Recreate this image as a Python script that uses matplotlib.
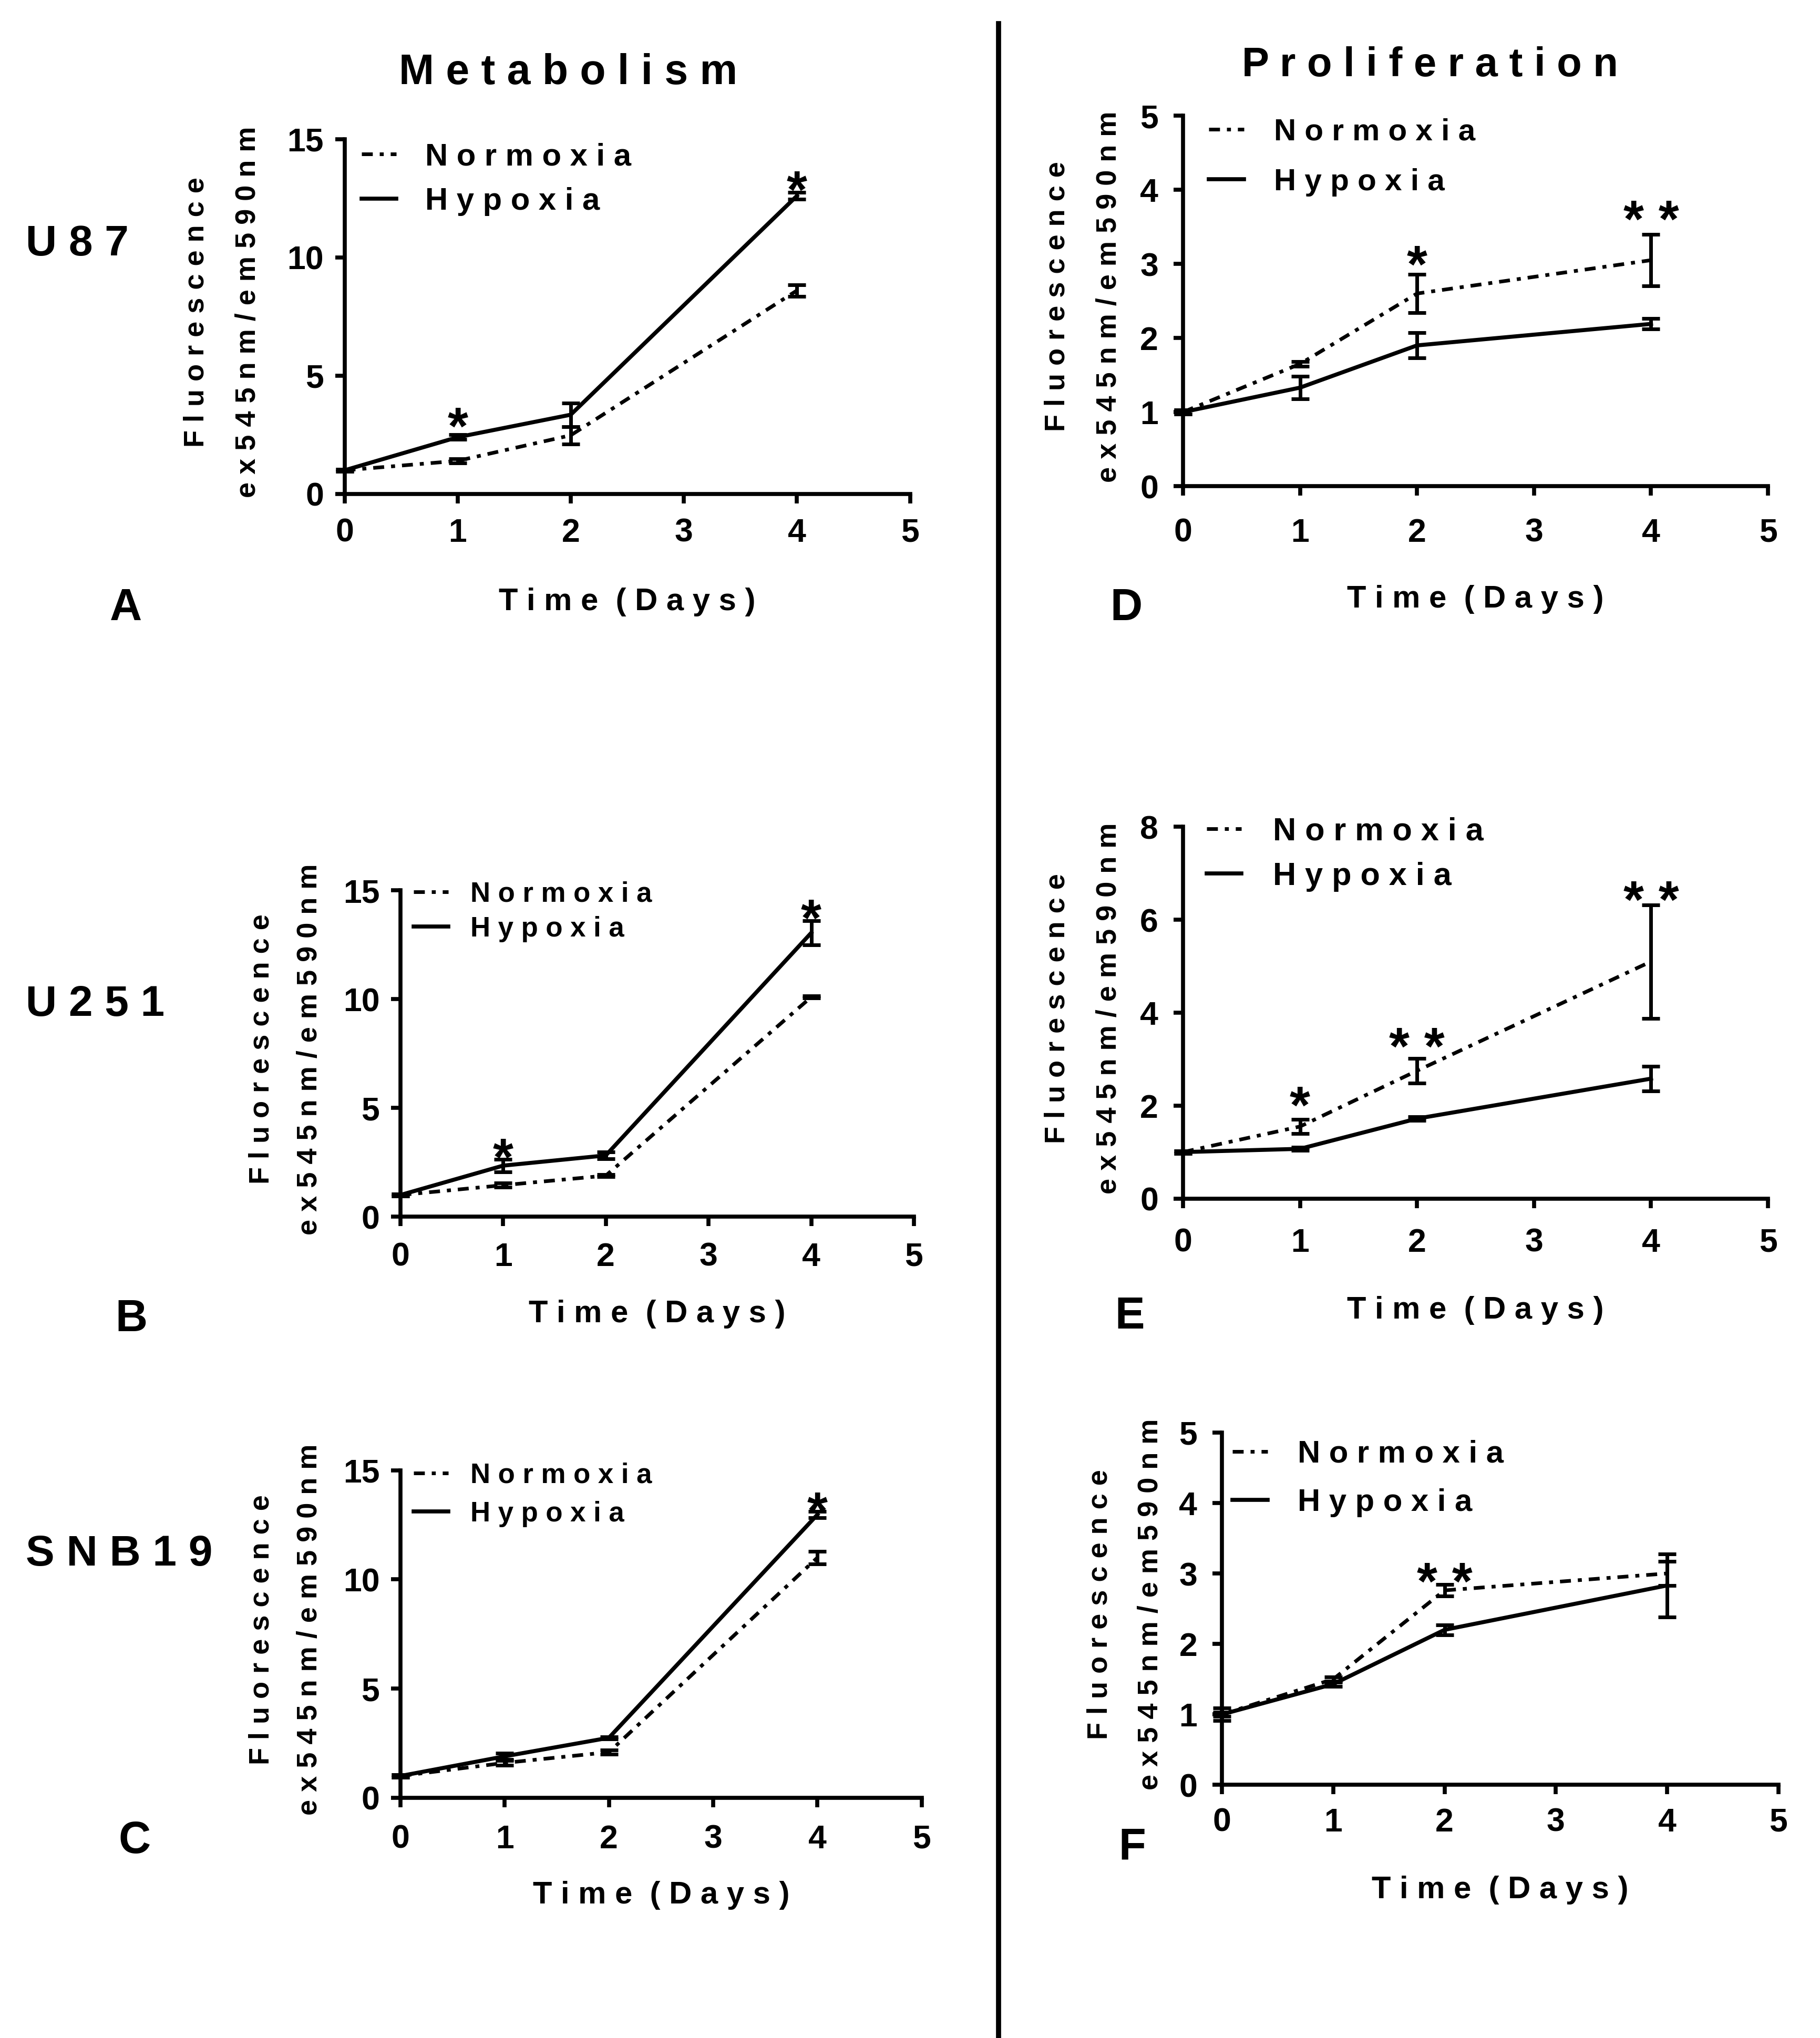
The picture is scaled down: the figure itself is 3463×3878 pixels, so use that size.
import matplotlib
matplotlib.use('Agg')
import matplotlib.pyplot as plt
from matplotlib.lines import Line2D

W, H = 3463, 3878
DPI = 100
S = 2.4736  # reduced-view px -> full px
PT = 72.0 / DPI  # full px -> points

plt.rcParams['font.family'] = ['Liberation Sans', 'DejaVu Sans']
plt.rcParams['font.weight'] = 'bold'

days = [0, 1, 2, 4]
x_ticks = [0, 1, 2, 3, 4, 5]

# ---- Panel A: U87 metabolism ----
A_norm = [1.0, 1.4, 2.48, 8.6]
A_norm_err = [0.05, 0.08, 0.36, 0.25]
A_hyp = [1.0, 2.4, 3.35, 12.6]
A_hyp_err = [0.05, 0.1, 0.5, 0.15]
A_yticks = [0, 5, 10, 15]
A_star_x = [1, 4]
A_star_y = [3.2, 13.2]
A_star_txt = ['*', '*']

# ---- Panel B: U251 metabolism ----
B_norm = [1.0, 1.45, 1.89, 10.1]
B_norm_err = [0.05, 0.1, 0.05, 0.05]
B_hyp = [1.0, 2.35, 2.82, 13.05]
B_hyp_err = [0.05, 0.3, 0.15, 0.55]
B_yticks = [0, 5, 10, 15]
B_star_x = [1, 4]
B_star_y = [3.1, 14.1]
B_star_txt = ['*', '*']

# ---- Panel C: SNB19 metabolism ----
C_norm = [1.0, 1.6, 2.09, 11.0]
C_norm_err = [0.05, 0.12, 0.1, 0.28]
C_hyp = [1.0, 1.9, 2.75, 12.97]
C_hyp_err = [0.05, 0.15, 0.05, 0.15]
C_yticks = [0, 5, 10, 15]
C_star_x = [4]
C_star_y = [13.5]
C_star_txt = ['*']

# ---- Panel D: U87 proliferation ----
D_norm = [1.0, 1.65, 2.6, 3.05]
D_norm_err = [0.03, 0.03, 0.26, 0.35]
D_hyp = [1.0, 1.33, 1.9, 2.19]
D_hyp_err = [0.03, 0.15, 0.17, 0.07]
D_yticks = [0, 1, 2, 3, 4, 5]
D_star_x = [2, 4]
D_star_y = [3.1, 3.71]
D_star_txt = ['*', '* *']

# ---- Panel E: U251 proliferation ----
E_norm = [1.0, 1.55, 2.75, 5.1]
E_norm_err = [0.03, 0.15, 0.27, 1.22]
E_hyp = [1.0, 1.07, 1.72, 2.58]
E_hyp_err = [0.03, 0.03, 0.04, 0.27]
E_yticks = [0, 2, 4, 6, 8]
E_star_x = [1, 2, 4]
E_star_y = [2.18, 3.45, 6.6]
E_star_txt = ['*', '* *', '* *']

# ---- Panel F: SNB19 proliferation ----
F_norm = [1.0, 1.5, 2.76, 3.0]
F_norm_err = [0.09, 0.03, 0.08, 0.17]
F_hyp = [1.0, 1.43, 2.2, 2.83]
F_hyp_err = [0.03, 0.03, 0.07, 0.45]
F_yticks = [0, 1, 2, 3, 4, 5]
F_star_x = [2]
F_star_y = [3.0]
F_star_txt = ['* *']

series_labels = ['Normoxia', 'Hypoxia']
ylabel1 = 'Fluorescence'
ylabel2 = 'ex545nm/em590nm'
xlabel = 'Time (Days)'
col_titles = ['Metabolism', 'Proliferation']
row_labels = ['U87', 'U251', 'SNB19']
panel_letters = ['A', 'B', 'C', 'D', 'E', 'F']


def sp(s):
    return ' '.join(s)


fig = plt.figure(figsize=(W / DPI, H / DPI), dpi=DPI)
fig.patch.set_facecolor('white')

# layout in reduced-view pixels: axes L, R, bottom(y=0), top(ymax)
layout = {
    'A': dict(L=265, R=700, B=380, T=107, xl=83, tkx=32, tky=16, yl=(114, 74),
              leg=(278, 119, 34, 327, 43)),
    'D': dict(L=910, R=1360, B=374, T=89, xl=87, tkx=38, tky=19, yl=(97, 57),
              leg=(930, 100, 38, 980, 42)),
    'B': dict(L=308, R=703, B=936, T=685, xl=75, tkx=33, tky=16, yl=(107, 70),
              leg=(318, 686, 26, 362, 38)),
    'E': dict(L=910, R=1360, B=922, T=636, xl=86, tkx=36, tky=19, yl=(97, 57),
              leg=(928, 638, 34, 979, 44)),
    'C': dict(L=308, R=709, B=1383, T=1131, xl=75, tkx=34, tky=16, yl=(107, 70),
              leg=(318, 1133, 29, 362, 38)),
    'F': dict(L=940, R=1368, B=1373, T=1102, xl=81, tkx=31, tky=19, yl=(94, 55),
              leg=(948, 1117, 37, 998, 43)),
}

data = {
    'A': (A_norm, A_norm_err, A_hyp, A_hyp_err, A_yticks, A_star_x, A_star_y, A_star_txt),
    'B': (B_norm, B_norm_err, B_hyp, B_hyp_err, B_yticks, B_star_x, B_star_y, B_star_txt),
    'C': (C_norm, C_norm_err, C_hyp, C_hyp_err, C_yticks, C_star_x, C_star_y, C_star_txt),
    'D': (D_norm, D_norm_err, D_hyp, D_hyp_err, D_yticks, D_star_x, D_star_y, D_star_txt),
    'E': (E_norm, E_norm_err, E_hyp, E_hyp_err, E_yticks, E_star_x, E_star_y, E_star_txt),
    'F': (F_norm, F_norm_err, F_hyp, F_hyp_err, F_yticks, F_star_x, F_star_y, F_star_txt),
}

dashdot = (0, (3.0, 1.9, 1.1, 1.9))
TICK_LEN = 13
TICK_LEN_PX = TICK_LEN / PT
TICK_FS = 45
LW_N, LW_H, LW_E = 5.0, 5.5, 5.0
STAR_FS = 72

for key in ['A', 'B', 'C', 'D', 'E', 'F']:
    lay = layout[key]
    norm, norm_err, hyp, hyp_err, yticks, sx, sy, stxt = data[key]
    L, R, B, T = [lay[k] * S for k in ('L', 'R', 'B', 'T')]
    ax = fig.add_axes([L / W, 1 - B / H, (R - L) / W, (B - T) / H])
    ax.set_xlim(0, 5)
    ax.set_ylim(yticks[0], yticks[-1])

    ax.errorbar(days, norm, yerr=norm_err, color='black', lw=LW_N,
                linestyle=dashdot, elinewidth=LW_E, capsize=12, capthick=LW_E,
                clip_on=False, zorder=3)
    ax.errorbar(days, hyp, yerr=hyp_err, color='black', lw=LW_H,
                linestyle='-', elinewidth=LW_E, capsize=12, capthick=LW_E,
                clip_on=False, zorder=3)

    for x, y, t in zip(sx, sy, stxt):
        ax.annotate(t, xy=(x, y), xytext=(0, -0.23 * STAR_FS), textcoords='offset points',
                    ha='center', va='center', fontsize=STAR_FS, fontweight='bold',
                    annotation_clip=False)

    for s in ('top', 'right'):
        ax.spines[s].set_visible(False)
    for s in ('left', 'bottom'):
        ax.spines[s].set_linewidth(5.5)
    ax.set_xticks(x_ticks)
    ax.set_yticks(yticks)
    ax.set_xticklabels([str(v) for v in x_ticks])
    ax.set_yticklabels([str(v) for v in yticks])
    em_t = TICK_FS / PT
    padx = (lay['tkx'] * S - 0.547 * em_t - TICK_LEN_PX) * PT
    pady = (lay['tky'] * S - TICK_LEN_PX) * PT
    ax.tick_params(axis='x', direction='out', length=TICK_LEN, width=5.5, pad=padx)
    ax.tick_params(axis='y', direction='out', length=TICK_LEN, width=5.5, pad=pady)
    for lab in ax.get_xticklabels() + ax.get_yticklabels():
        lab.set_fontsize(TICK_FS)
        lab.set_fontweight('bold')

    # x label
    ax.annotate(sp(xlabel).replace('   ', '  '), xy=(0.5, 0), xycoords='axes fraction',
                xytext=(0, -lay['xl'] * S * PT), textcoords='offset points',
                ha='center', va='center', fontsize=43, fontweight='bold')
    # y labels (two lines)
    for txt, off in zip([ylabel1, ylabel2], lay['yl']):
        ax.annotate(sp(txt), xy=(0, 0.5), xycoords='axes fraction',
                    xytext=(-off * S * PT, 6), textcoords='offset points',
                    ha='center', va='center', rotation=90, fontsize=39,
                    fontweight='bold')

    # legend
    hx, r1, rsp, tx, fs = lay['leg']
    em = fs / PT
    hlen = 27 * S / em
    htp = (tx - hx - 27) * S / em
    lsp = max(rsp * S / em - 0.91, 0.0)
    top_px = r1 * S - 0.39 * em
    handles = [Line2D([], [], color='black', lw=LW_N, linestyle=dashdot),
               Line2D([], [], color='black', lw=LW_H, linestyle='-')]
    ax.legend(handles, [sp(s) for s in series_labels], loc='upper left',
              bbox_to_anchor=(hx * S / W, 1 - top_px / H),
              bbox_transform=fig.transFigure, frameon=False,
              borderpad=0, borderaxespad=0, handlelength=hlen,
              handletextpad=htp, labelspacing=lsp,
              prop=dict(size=fs, weight='bold'))

# column titles
fig.text(1081 / W, 1 - 139 / H, sp(col_titles[0]), ha='center', va='center',
         fontsize=58, fontweight='bold')
fig.text(2721 / W, 1 - 124 / H, sp(col_titles[1]), ha='center', va='center',
         fontsize=56, fontweight='bold')

# row labels
for lab, yy in zip(row_labels, [188, 773, 1196]):
    fig.text(20 * S / W, 1 - yy * S / H, sp(lab), ha='left', va='center',
             fontsize=59, fontweight='bold')

# panel letters (full-resolution pixel centres)
letter_pos = {'A': (240, 1158), 'B': (250, 2511), 'C': (256, 3504),
              'D': (2143, 1158), 'E': (2150, 2506), 'F': (2154, 3516)}
for k in panel_letters:
    x, y = letter_pos[k]
    fig.text(x / W, 1 - y / H, k, ha='center', va='center',
             fontsize=61, fontweight='bold')

# divider
fig.add_artist(Line2D([1900 / W, 1900 / W], [1 - 45 / H, 0.0],
                      transform=fig.transFigure, color='black', lw=7))

fig.savefig('out.png', dpi=DPI, facecolor='white')
